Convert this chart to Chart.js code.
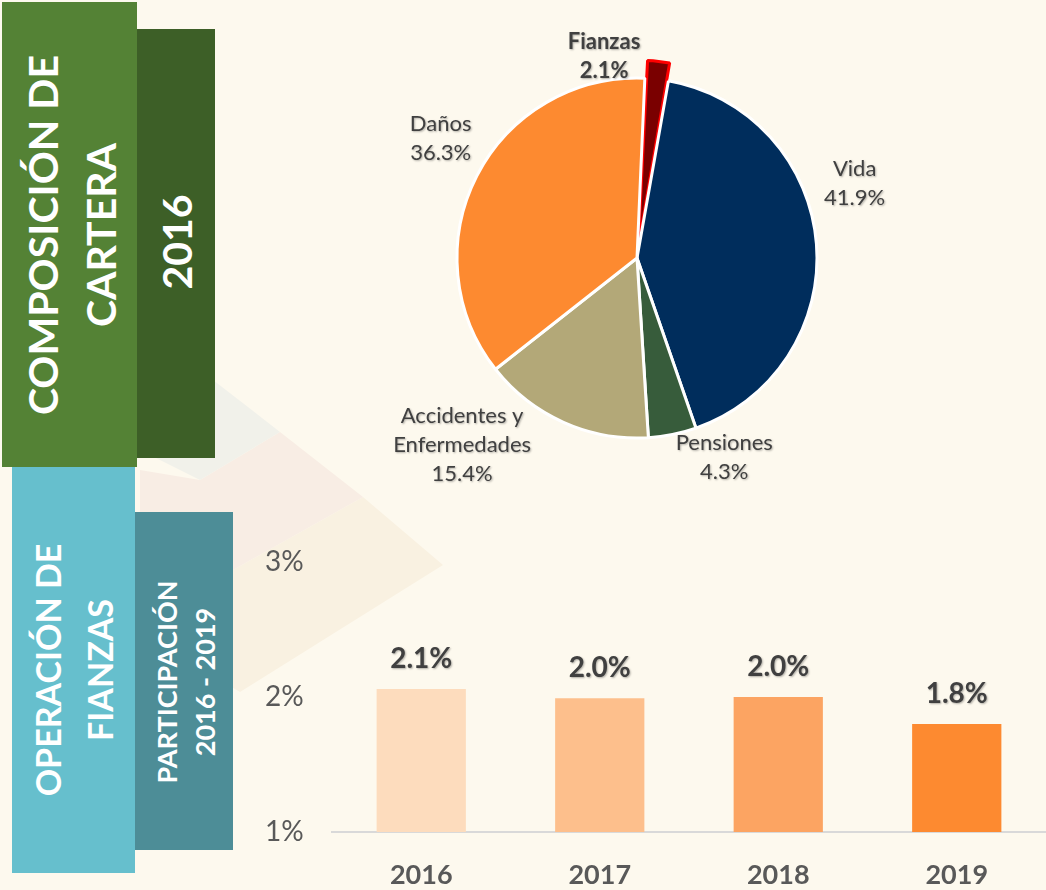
<!DOCTYPE html>
<html>
<head>
<meta charset="UTF-8">
<title>Composición de cartera 2016 - Operación de fianzas</title>
<script src="https://cdn.jsdelivr.net/npm/chart.js@4.4.1/dist/chart.umd.min.js"></script>
<style>
    html, body { margin: 0; padding: 0; background: #FDF9EE; }
    #page { position: relative; width: 1046px; height: 890px; overflow: hidden; background: #FDF9EE; font-family: Lato, 'Open Sans', sans-serif; }
    .box { position: absolute; }
    .vtext { position: absolute; color: #fff; font-weight: 700; white-space: nowrap; line-height: 1; transform: translate(-50%, -50%) rotate(-90deg); }
    #deco { position: absolute; left: 0; top: 0; }
    .chartBox { position: absolute; }
</style>
</head>
<body>
<div id="page">
    <svg id="deco" width="1046" height="890">
        <polygon points="363,497 443,565 240,692 140,632 140,600 233,570" fill="#F9F1E1"/>
        <polygon points="280,432 363,497 233,570 140,618 140,470 200,480" fill="#F8EDE4"/>
        <polygon points="213,380 280,432 200,480 140,450 140,380" fill="#F1F1EA"/>
    </svg>

    <div class="box" style="left:12px;top:465px;width:123px;height:408px;background:#66BFCD;"></div>
    <div class="box" style="left:135px;top:512px;width:98px;height:338px;background:#4D8D97;"></div>
    <div class="box" style="left:2px;top:2px;width:135px;height:465px;background:#548235;"></div>
    <div class="box" style="left:137px;top:29px;width:78px;height:429px;background:#3D5F27;"></div>

    <div class="vtext" style="left:42px;top:235px;font-size:41px;">COMPOSICIÓN DE</div>
    <div class="vtext" style="left:100px;top:235px;font-size:41px;">CARTERA</div>
    <div class="vtext" style="left:176px;top:242px;font-size:41px;">2016</div>

    <div class="vtext" style="left:48px;top:670px;font-size:34px;">OPERACIÓN DE</div>
    <div class="vtext" style="left:100px;top:670px;font-size:34px;">FIANZAS</div>
    <div class="vtext" style="left:166px;top:682px;font-size:27px;">PARTICIPACIÓN</div>
    <div class="vtext" style="left:204px;top:682px;font-size:27px;">2016 - 2019</div>

    <div class="chartBox" style="left:337px;top:0;width:600px;height:516px;">
        <canvas id="pieChart" width="600" height="516"></canvas>
    </div>
    <div class="chartBox" style="left:265px;top:540px;width:781px;height:350px;">
        <canvas id="barChart" width="781" height="350"></canvas>
    </div>
</div>

<script>
// Composición de cartera 2016 (% del total)
const pieLabels = ['Fianzas', 'Vida', 'Pensiones', 'Accidentes y\nEnfermedades', 'Daños'];
const pieShares = [2.1, 41.9, 4.3, 15.4, 36.3];
const pieColors = ['#7A0000', '#002D5C', '#375C3B', '#B3A878', '#FD8A30'];

// Participación de fianzas 2016 - 2019
const years = ['2016', '2017', '2018', '2019'];
const fianzasShare = [2.06, 1.99, 2.0, 1.8];
const yTicks = [1, 2, 3];
const barColors = ['#FDDCBD', '#FDBF8C', '#FCA462', '#FD8A30'];

const FONT = "Lato, 'Open Sans', sans-serif";
const TEXT_DARK = '#404040';

function withShadow(ctx) {
    ctx.shadowColor = 'rgba(0,0,0,0.3)';
    ctx.shadowBlur = 2;
    ctx.shadowOffsetX = 1;
    ctx.shadowOffsetY = 1;
}

// labels around the pie, placed by angle (deg from 12 o'clock) and distance from center
const pieLabelPlugin = {
    id: 'pieLabels',
    afterDatasetsDraw(chart, args, opts) {
        const ctx = chart.ctx;
        const meta = chart.getDatasetMeta(0);
        ctx.save();
        withShadow(ctx);
        ctx.fillStyle = TEXT_DARK;
        ctx.textAlign = 'center';
        ctx.textBaseline = 'middle';
        meta.data.forEach((arc, i) => {
            const a = opts.angles[i] * Math.PI / 180;
            const cx = arc.x + Math.sin(a) * opts.dist[i];
            const cy = arc.y - Math.cos(a) * opts.dist[i];
            const lines = pieLabels[i].split('\n').concat(pieShares[i].toFixed(1) + '%');
            ctx.font = (i === opts.bold ? '700 ' : '400 ') + opts.size + 'px ' + FONT;
            const top = cy - (lines.length - 1) * opts.lineHeight / 2;
            lines.forEach((t, k) => ctx.fillText(t, cx, top + k * opts.lineHeight));
        });
        ctx.restore();
    }
};

const barLabelPlugin = {
    id: 'barLabels',
    afterDatasetsDraw(chart) {
        const ctx = chart.ctx;
        const meta = chart.getDatasetMeta(0);
        ctx.save();
        withShadow(ctx);
        ctx.fillStyle = TEXT_DARK;
        ctx.font = '700 28px ' + FONT;
        ctx.textAlign = 'center';
        ctx.textBaseline = 'middle';
        meta.data.forEach((bar, i) => {
            ctx.fillText(fianzasShare[i].toFixed(1) + '%', bar.x, bar.y - 30);
        });
        ctx.restore();
    }
};

new Chart(document.getElementById('pieChart'), {
    type: 'pie',
    data: {
        labels: pieLabels,
        datasets: [{
            data: pieShares,
            backgroundColor: pieColors,
            borderColor: ['#FF0000', '#FFFFFF', '#FFFFFF', '#FFFFFF', '#FFFFFF'],
            borderWidth: 3,
            offset: [38, 0, 0, 0, 0],
            radius: 180
        }]
    },
    options: {
        responsive: false,
        animation: false,
        rotation: 2.5,
        layout: { padding: 0 },
        plugins: {
            legend: { display: false },
            tooltip: { enabled: false },
            pieLabels: {
                angles: [-9.3, 71.1, 156.4, 223.1, 301.4],
                dist: [204, 230, 218, 256, 230],
                lineHeight: 29,
                size: 22,
                bold: 0
            }
        }
    },
    plugins: [pieLabelPlugin]
});

new Chart(document.getElementById('barChart'), {
    type: 'bar',
    data: {
        labels: years,
        datasets: [{
            data: fianzasShare,
            backgroundColor: barColors,
            barPercentage: 0.5,
            categoryPercentage: 1.0
        }]
    },
    options: {
        responsive: false,
        animation: false,
        layout: { padding: { top: 22, left: 0, right: 0, bottom: 0 } },
        plugins: {
            legend: { display: false },
            tooltip: { enabled: false }
        },
        scales: {
            x: {
                grid: { display: false, drawTicks: false },
                border: { color: '#D9D9D9', width: 2 },
                ticks: { padding: 27, color: '#595959', font: { family: FONT, size: 27, weight: '700' } },
                afterFit: s => { s.height = 58; }
            },
            y: {
                min: 1,
                max: 3,
                afterBuildTicks: s => { s.ticks = yTicks.map(v => ({ value: v })); },
                grid: { display: false, drawTicks: false },
                border: { display: false },
                ticks: { padding: 0, crossAlign: 'far', color: '#595959', font: { family: FONT, size: 28 }, callback: v => v + '%' },
                afterFit: s => { s.width = 67; }
            }
        }
    },
    plugins: [barLabelPlugin]
});
</script>
</body>
</html>
